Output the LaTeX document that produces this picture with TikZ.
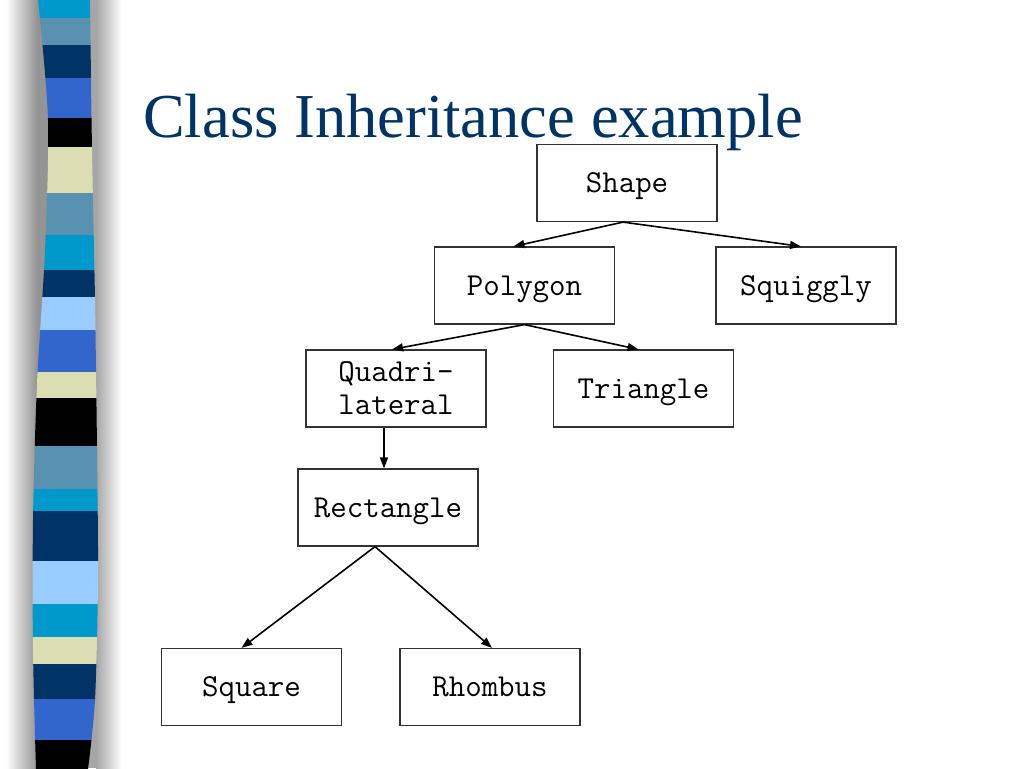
\documentclass[tikz,border=0pt]{standalone}
\usepackage{fontspec}
\setmainfont{Liberation Serif}
\usetikzlibrary{arrows.meta}
\definecolor{titleblue}{RGB}{0,51,102}
\definecolor{scyan}{RGB}{0,153,204}
\definecolor{ssteel}{RGB}{88,146,176}
\definecolor{snavy}{RGB}{0,51,102}
\definecolor{sroyal}{RGB}{51,102,204}
\definecolor{sbeige}{RGB}{221,221,180}
\definecolor{slight}{RGB}{153,204,255}
\definecolor{boxline}{RGB}{50,50,50}
\tikzset{
  cls/.style={draw=boxline, line width=1.2pt, minimum width=180pt, minimum height=77pt,
    font=\ttfamily\fontsize{32}{33}\selectfont, align=center, inner sep=0pt},
  oneline/.style={text height=19.5pt, text depth=0pt},
  arr/.style={line width=1.6pt, -{Triangle[length=11pt,width=8pt]}},
}
\begin{document}
\begin{tikzpicture}[x=1pt,y=-1pt]
\useasboundingbox (0,0) rectangle (1024,768);
\fill[white] (0,0) rectangle (1024,768);
% shadow around the strip
\shade[left color=white, right color=black!42] (6,0) rectangle (37,768);
\fill[black!42] (37,0) rectangle (60,768);
\fill[black!35] (70,0) rectangle (96,768);
\shade[left color=black!35, right color=white] (96,0) rectangle (122,768);
% strip
\begin{scope}
\clip plot[smooth] coordinates {(38,-1)(48,120)(45,250)(37,384)(33,520)(33,650)(36,769)}
  -- plot[smooth] coordinates {(88,769)(95,700)(98,580)(97,450)(95,300)(92,150)(90,-1)} -- cycle;
\foreach \a/\b/\c in {-1/18/scyan,18/45/ssteel,45/78/snavy,78/118/sroyal,118/147/black,
  147/193/sbeige,193/235/ssteel,235/270/scyan,270/297/snavy,297/330/slight,330/372/sroyal,
  372/398/sbeige,398/446/black,446/489/ssteel,489/511/scyan,511/561/snavy,561/604/slight,
  604/637/scyan,637/664/sbeige,664/699/snavy,699/740/sroyal,740/769/black}
  \fill[\c] (20,\a) rectangle (110,\b);
\end{scope}
% title
\node[anchor=base west, text=titleblue, font=\fontsize{62.5}{70}\selectfont, inner sep=0pt]
  (title) at (143,137) {Class Inheritance example};
% classes
\node[cls,oneline] (shape) at (627,183) {Shape};
\node[cls,oneline] (polygon) at (524.5,285.5) {Polygon};
\node[cls,oneline] (squiggly) at (806,285.5) {Squiggly};
\node[cls] (quadri) at (396,388.5) {Quadri-\\lateral};
\node[cls,oneline] (triangle) at (643.5,388.5) {Triangle};
\node[cls,oneline] (rect) at (388,507.5) {Rectangle};
\node[cls,oneline] (square) at (251.5,687) {Square};
\node[cls,oneline] (rhombus) at (490,687) {Rhombus};
% connectors
\draw[arr] ([xshift=-4pt]shape.south) -- ([xshift=-11pt]polygon.north);
\draw[arr] ([xshift=-4pt]shape.south) -- ([xshift=-5pt]squiggly.north);
\draw[arr] (polygon.south) -- ([xshift=-4pt]quadri.north);
\draw[arr] (polygon.south) -- ([xshift=-5pt]triangle.north);
\draw[arr] ([xshift=-12pt]quadri.south) -- ([xshift=-12pt]quadri.south |- rect.north);
\draw[arr] ([xshift=-13pt]rect.south) -- ([xshift=-10pt]square.north);
\draw[arr] ([xshift=-13pt]rect.south) -- ([xshift=2pt]rhombus.north);
\end{tikzpicture}
\end{document}
